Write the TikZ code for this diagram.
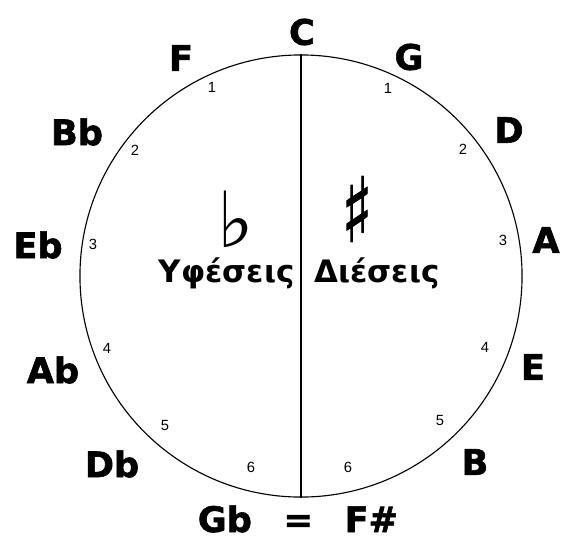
\documentclass[tikz,border=0pt]{standalone}
\usepackage{fontspec}
\setmainfont{DejaVu Sans}
\newfontfamily\keyfont{DejaVu Sans}[BoldFeatures={FakeBold=1.6}]
\newfontfamily\symfont{DejaVu Sans}[FakeBold=1.2]
\newfontfamily\numfont{Liberation Sans}
\usetikzlibrary{positioning}
\tikzset{
  every picture/.style={line width=0.8pt},
  key/.style={font=\keyfont\fontsize{25}{25}\selectfont\bfseries, inner sep=0pt},
  num/.style={font=\numfont\fontsize{10.5}{10.5}\selectfont, inner sep=0pt},
  side/.style={font=\fontsize{22}{22}\selectfont\bfseries, inner sep=0pt},
  accid/.style={font=\fontsize{55}{55}\selectfont, inner sep=0pt},
}

\begin{document}
\begin{tikzpicture}[x=0.025cm, y=-0.025cm]
  \useasboundingbox (0,0) rectangle (563,541);
  % the wheel
  \node[draw, circle, minimum size=11.05cm, inner sep=0pt] (wheel) at (301,276) {};
  \draw[line width=1pt] (wheel.north) -- (wheel.south);
  % keys, sharp side
  \node[key] (key-C) at (302,32) {C};
  \node[key] (key-G) at (409,57) {G};
  \node[key] (key-D) at (509,130) {D};
  \node[key] (key-A) at (546,240) {A};
  \node[key] (key-E) at (533,367) {E};
  \node[key] (key-B) at (475,462) {B};
  % keys, flat side
  \node[key] (key-F) at (181,58) {F};
  \node[key] (key-Bb) at (77,132) {Bb};
  \node[key] (key-Eb) at (38,245) {Eb};
  \node[key] (key-Ab) at (53,370) {Ab};
  \node[key] (key-Db) at (112,464) {Db};
  \node[key, anchor=base] (key-Gb) at (298,532) {Gb\hspace{0.9em}=\hspace{0.9em}F\#};
  % number of flats / sharps
  \foreach \n/\x/\y in {1/212/87, 2/135/150, 3/93/244, 4/107/348, 5/165/425, 6/251/467}
    \node[num] (fl-\n) at (\x,\y) {\n};
  \foreach \n/\x/\y in {1/388/88, 2/463/149, 3/503/240, 4/485/347, 5/440/420, 6/348/467}
    \node[num] (sh-\n) at (\x,\y) {\n};
  % middle
  \node[accid] (flat) at (236,219) {♭};
  \node[accid, text depth=0pt, font=\symfont\fontsize{64}{64}\selectfont] (sharp) at (357,209) {\scalebox{0.72}[1]{♯}};
  \node[side, anchor=base east] (flats) at (295,282) {Υφέσεις};
  \node[side, anchor=base west] (sharps) at (314,282) {Διέσεις};
\end{tikzpicture}
\end{document}
